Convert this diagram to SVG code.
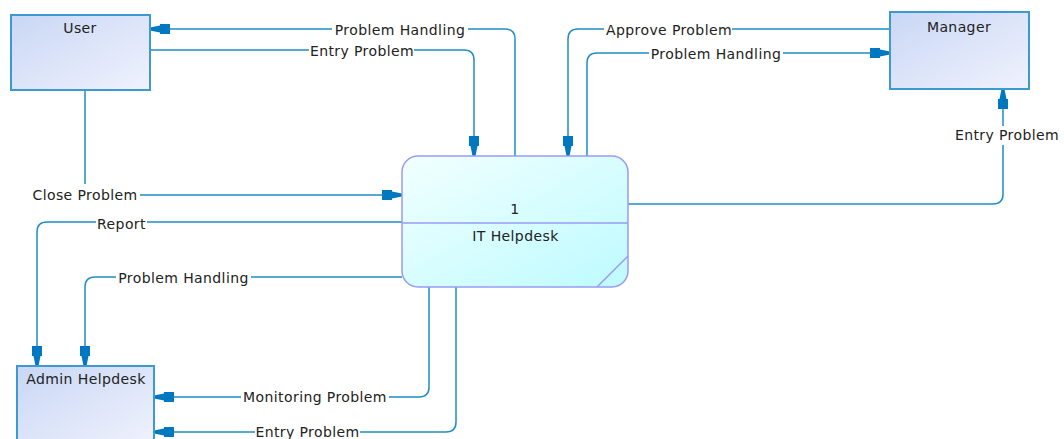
<svg xmlns="http://www.w3.org/2000/svg" width="1064" height="439" viewBox="0 0 1064 439">
  <defs>
    <linearGradient id="entityFill" x1="0" y1="0" x2="1" y2="1">
      <stop offset="0" stop-color="#c9d7f5"/>
      <stop offset="1" stop-color="#f0f2fd"/>
    </linearGradient>
    <linearGradient id="processFill" x1="0" y1="0" x2="1" y2="1">
      <stop offset="0" stop-color="#f2ffff"/>
      <stop offset="1" stop-color="#bdfbff"/>
    </linearGradient>
    <marker id="flowArrow" viewBox="-21 -6 22 12" refX="0" refY="0" markerWidth="22" markerHeight="12" markerUnits="userSpaceOnUse" orient="auto">
      <path d="M0,-1.5 L-10,-3.5 L-10,-5 L-20,-5 L-20,5 L-10,5 L-10,3.5 L0,1.5 Z" fill="#0078c0"/>
    </marker>
    <style>
      .entity { fill: url(#entityFill); stroke: #3c9ad0; stroke-width: 2; }
      .process { fill: url(#processFill); stroke: #9a9af5; stroke-width: 1.5; }
      .sep { stroke: #9a9af5; stroke-width: 1.5; fill: none; }
      .flow { fill: none; stroke: #1f8dc8; stroke-width: 1.5; }
      .arrow { marker-end: url(#flowArrow); }
      .gap { fill: #ffffff; }
      text { font-family: "DejaVu Sans", "Liberation Sans", sans-serif; font-size: 14px; fill: #222222; letter-spacing: 0.4px; text-anchor: middle; }
    </style>
  </defs>

  <rect width="1064" height="439" fill="#ffffff"/>

  <!-- data flows -->
  <g id="connectors">
    <path class="flow arrow" d="M515,156 V39 Q515,29 505,29 H150"/>
    <path class="flow arrow" d="M150,50 H464 Q474,50 474,60 V156"/>
    <path class="flow arrow" d="M890,29 H578 Q568,29 568,39 V156"/>
    <path class="flow arrow" d="M587,156 V63 Q587,53 597,53 H890"/>
    <path class="flow arrow" d="M628,204 H993 Q1003,204 1003,194 V89"/>
    <path class="flow arrow" d="M85,90 V195 H402"/>
    <path class="flow arrow" d="M402,222 H47 Q37,222 37,232 V366"/>
    <path class="flow arrow" d="M402,277 H95 Q85,277 85,287 V366"/>
    <path class="flow arrow" d="M429,287 V387 Q429,397 419,397 H154"/>
    <path class="flow arrow" d="M456,287 V422 Q456,432 446,432 H154"/>

    <!-- label backgrounds break the flow lines -->
    <rect class="gap" x="332" y="23" width="136" height="14"/>
    <rect class="gap" x="309" y="44" width="105" height="14"/>
    <rect class="gap" x="604" y="23" width="128" height="14"/>
    <rect class="gap" x="649" y="47" width="134" height="14"/>
    <rect class="gap" x="999" y="126" width="9" height="19"/>
    <rect class="gap" x="30" y="184" width="110" height="16"/>
    <rect class="gap" x="96" y="216" width="51" height="14"/>
    <rect class="gap" x="116" y="271" width="135" height="14"/>
    <rect class="gap" x="241" y="391" width="148" height="14"/>
    <rect class="gap" x="255" y="426" width="105" height="13"/>

    <text x="400" y="35">Problem Handling</text>
    <text x="362" y="56">Entry Problem</text>
    <text x="669" y="35">Approve Problem</text>
    <text x="716" y="59">Problem Handling</text>
    <text x="1007" y="140">Entry Problem</text>
    <text x="85" y="200">Close Problem</text>
    <text x="121.5" y="229">Report</text>
    <text x="183.5" y="283">Problem Handling</text>
    <text x="315" y="402">Monitoring Problem</text>
    <text x="307.5" y="437">Entry Problem</text>
  </g>

  <g id="user">
    <rect class="entity" x="11" y="15" width="139" height="75"/>
    <text x="80" y="33">User</text>
  </g>

  <g id="manager">
    <rect class="entity" x="890" y="12" width="139" height="77"/>
    <text x="959" y="32">Manager</text>
  </g>

  <g id="admin-helpdesk">
    <rect class="entity" x="17" y="366" width="137" height="80"/>
    <text x="86" y="384">Admin Helpdesk</text>
  </g>

  <g id="it-helpdesk">
    <rect class="process" x="402" y="156" width="226" height="131" rx="16" ry="16"/>
    <line class="sep" x1="402" y1="223" x2="628" y2="223"/>
    <line class="sep" x1="597" y1="287" x2="628" y2="256"/>
    <text x="515" y="214">1</text>
    <text x="515.5" y="241">IT Helpdesk</text>
  </g>
</svg>
